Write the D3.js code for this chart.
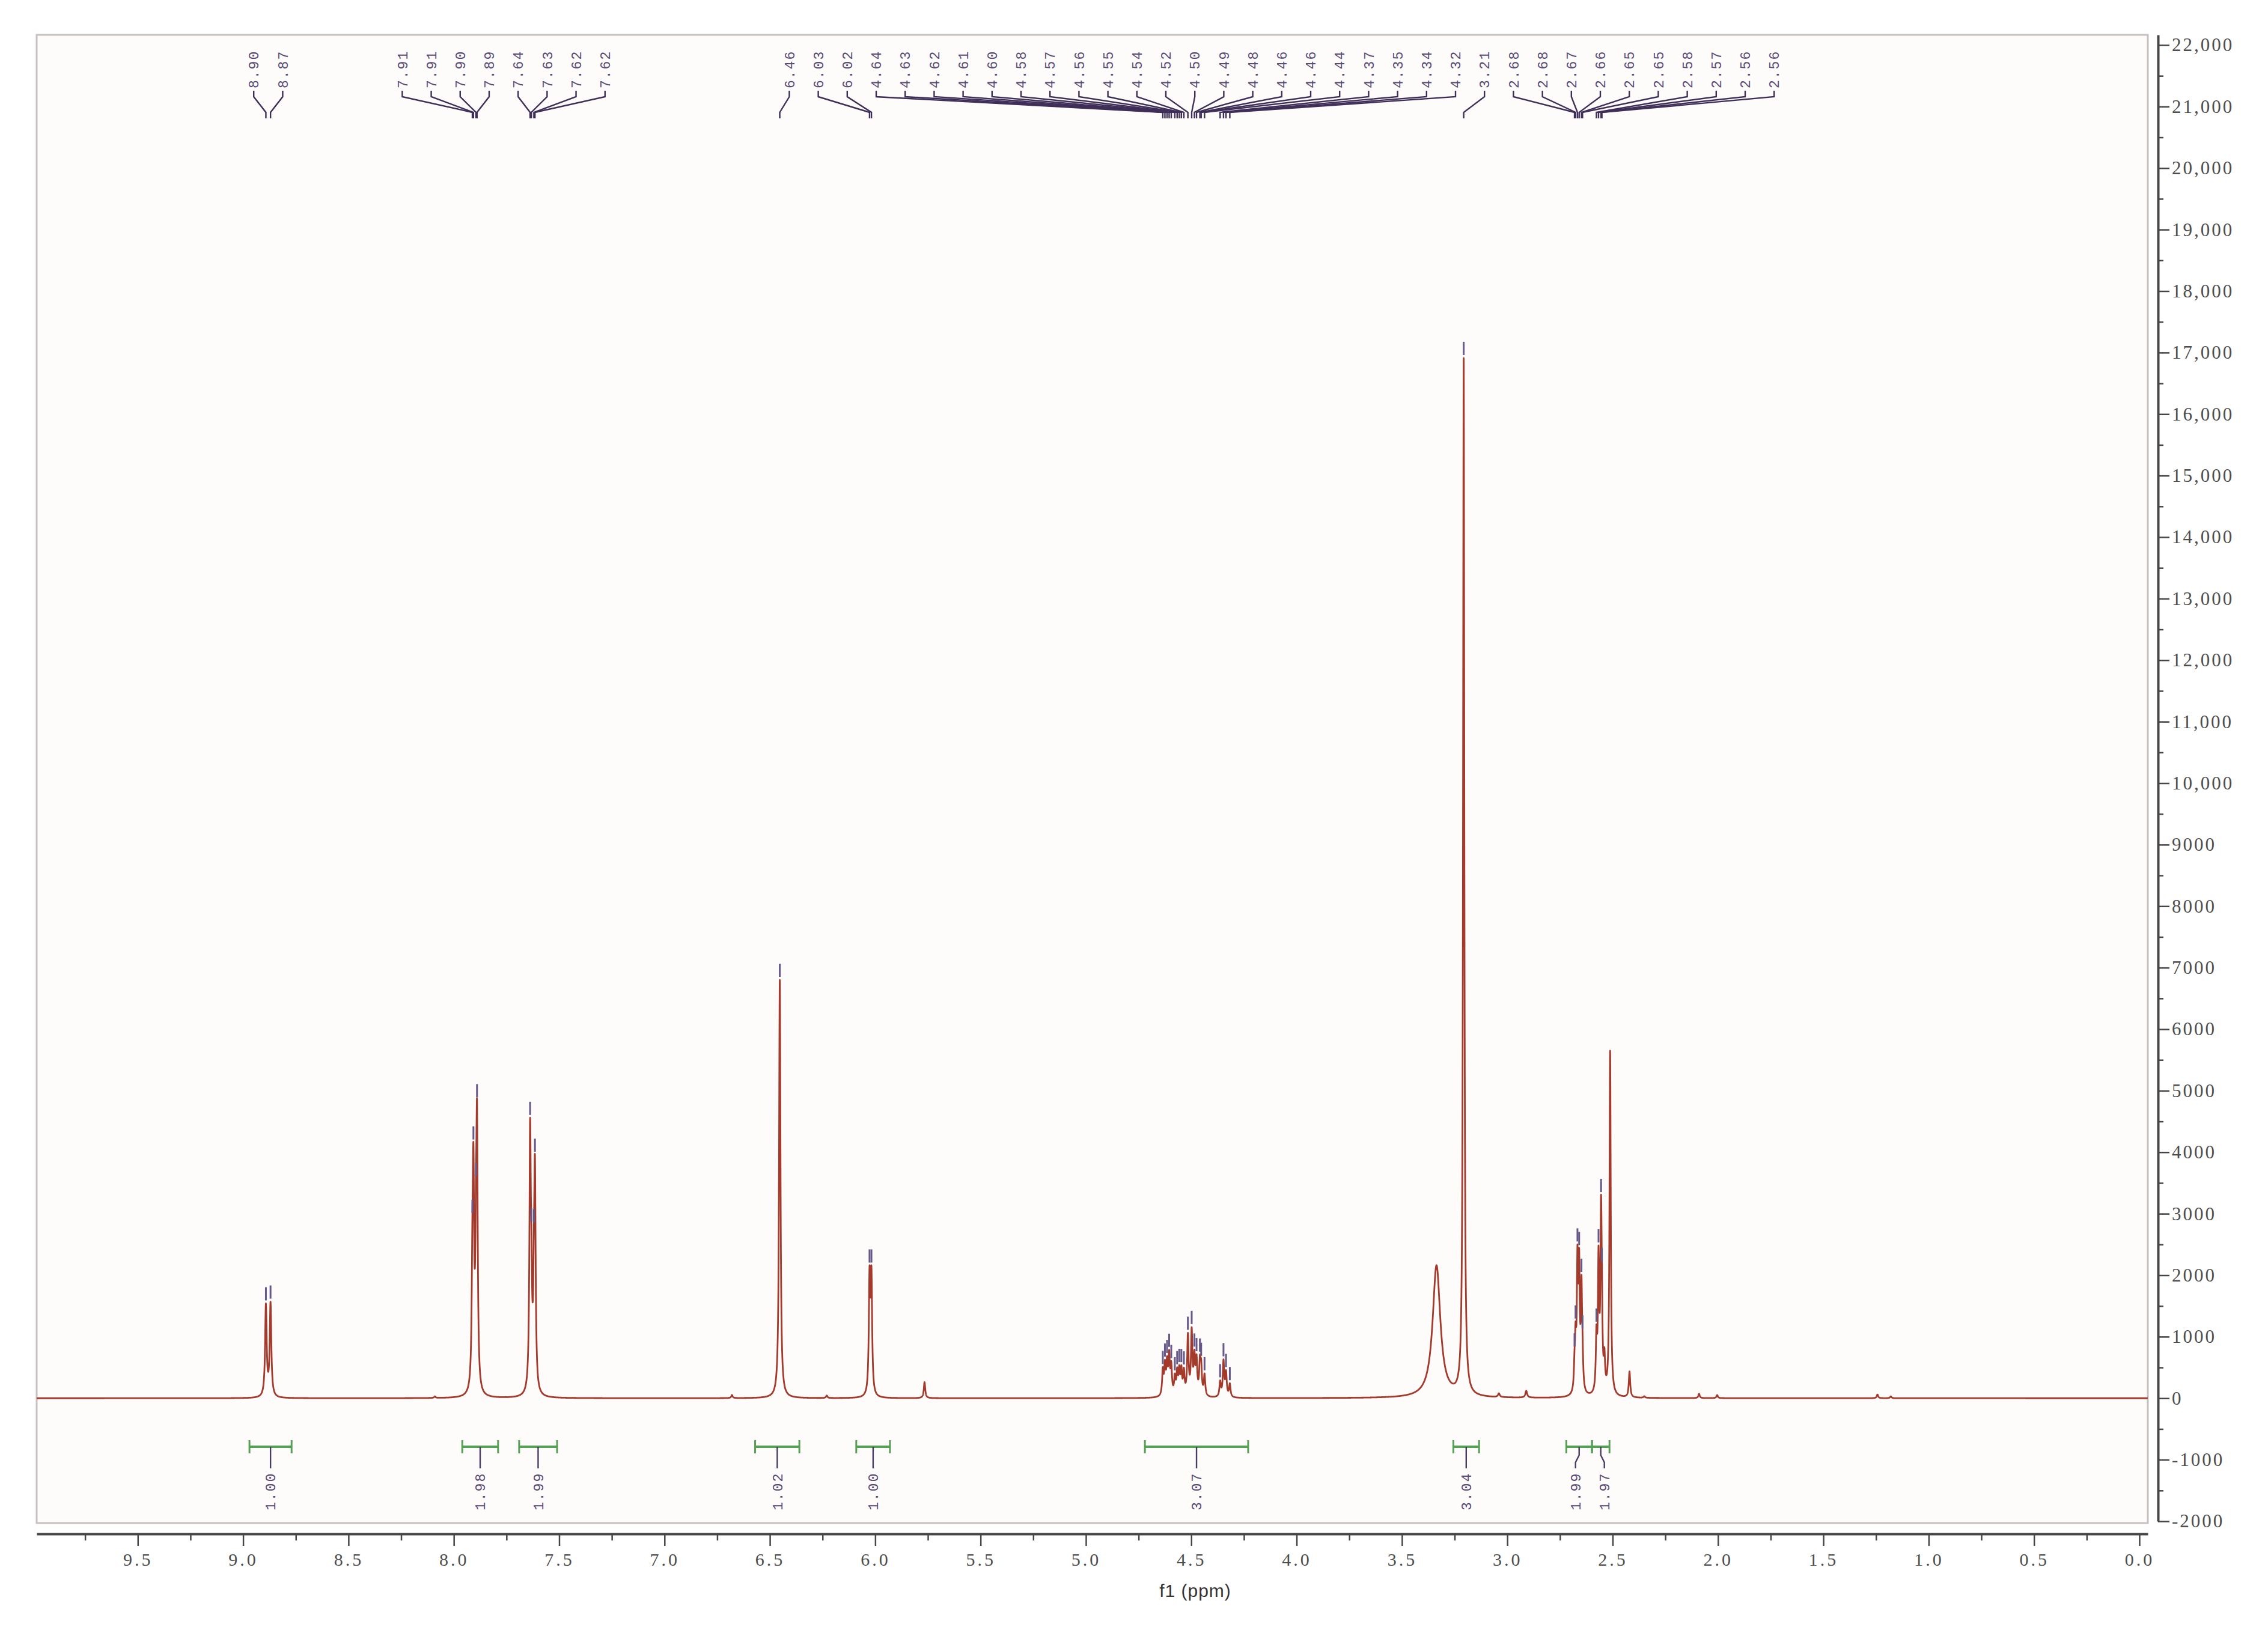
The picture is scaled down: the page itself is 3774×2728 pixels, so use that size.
<!DOCTYPE html>
<html><head><meta charset="utf-8">
<script src="https://cdn.jsdelivr.net/npm/d3@7"></script>
<style>
html,body{margin:0;padding:0;background:#fff;}
svg{display:block;}
</style></head><body>
<svg id="chart" width="3774" height="2728"></svg>
<script>
// ---------------- DATA ----------------
// resonance lines: chemical shift (ppm), height (a.u.), half-width at half-height (ppm)
const linePpm = [8.892, 8.870, 8.09,
  7.912, 7.907, 7.895, 7.890, 7.638, 7.632, 7.620, 7.615,
  6.68, 6.453, 6.23, 6.027, 6.018, 5.766,
  4.635, 4.625, 4.615, 4.605, 4.595, 4.578, 4.567, 4.557, 4.547, 4.535, 4.516, 4.498, 4.485, 4.475, 4.459, 4.453, 4.437,
  4.363, 4.347, 4.335, 4.317,
  3.336, 3.207, 3.04, 2.91,
  2.681, 2.676, 2.667, 2.659, 2.648, 2.643,
  2.577, 2.567, 2.555, 2.551, 2.539,
  2.512, 2.42, 2.35, 2.09, 2.004, 1.243, 1.18];
const lineHeight = [1480, 1510, 25,
  1500, 3200, 1600, 4000, 4000, 1300, 1200, 3300,
  50, 6800, 40, 1850, 1850, 260,
  400, 460, 490, 610, 450, 280, 360, 380, 390, 370, 960, 1020, 580, 540, 500, 420, 340,
  240, 570, 380, 210,
  2150, 16850, 60, 110,
  350, 750, 2000, 1900, 1600, 400,
  850, 2100, 2700, 800, 500,
  5600, 420, 25, 70, 50, 60, 30];
const lineWidth = [0.0045, 0.0045, 0.004,
  0.004, 0.004, 0.004, 0.004, 0.004, 0.004, 0.004, 0.004,
  0.004, 0.004, 0.004, 0.004, 0.004, 0.004,
  0.004, 0.004, 0.004, 0.004, 0.004, 0.004, 0.004, 0.004, 0.004, 0.004, 0.004, 0.004, 0.004, 0.004, 0.004, 0.004, 0.004,
  0.004, 0.004, 0.004, 0.004,
  0.022, 0.0035, 0.005, 0.005,
  0.0035, 0.0035, 0.0035, 0.0035, 0.0035, 0.0035,
  0.0035, 0.0035, 0.0035, 0.0035, 0.0035,
  0.0035, 0.004, 0.004, 0.004, 0.004, 0.004, 0.004];

// picked peaks: label text and position (ppm)
const peakLabels = ["8.90","8.87",
  "7.91","7.91","7.90","7.89","7.64","7.63","7.62","7.62",
  "6.46","6.03","6.02",
  "4.64","4.63","4.62","4.61","4.60","4.58","4.57","4.56","4.55","4.54","4.52","4.50","4.49","4.48","4.46","4.46","4.44",
  "4.37","4.35","4.34","4.32",
  "3.21",
  "2.68","2.68","2.67","2.66","2.65","2.65","2.58","2.57","2.56","2.56"];
const peakPpm = [8.892, 8.870,
  7.912, 7.907, 7.895, 7.890, 7.638, 7.632, 7.620, 7.615,
  6.453, 6.027, 6.018,
  4.635, 4.625, 4.615, 4.605, 4.595, 4.578, 4.567, 4.557, 4.547, 4.535, 4.516, 4.498, 4.485, 4.475, 4.459, 4.453, 4.437,
  4.363, 4.347, 4.335, 4.317,
  3.207,
  2.681, 2.676, 2.667, 2.659, 2.648, 2.643, 2.577, 2.567, 2.555, 2.551];

// integrals: range (ppm) and value
const integralFrom = [8.97, 7.96, 7.69, 6.57, 6.09, 4.72, 3.256, 2.72, 2.598];
const integralTo   = [8.77, 7.79, 7.51, 6.36, 5.93, 4.23, 3.134, 2.598, 2.515];
const integralValues = ["1.00", "1.98", "1.99", "1.02", "1.00", "3.07", "3.04", "1.99", "1.97"];

// axes
const xTickValues = [9.5, 9.0, 8.5, 8.0, 7.5, 7.0, 6.5, 6.0, 5.5, 5.0, 4.5, 4.0, 3.5, 3.0, 2.5, 2.0, 1.5, 1.0, 0.5, 0.0];
const xTickLabels = ["9.5","9.0","8.5","8.0","7.5","7.0","6.5","6.0","5.5","5.0","4.5","4.0","3.5","3.0","2.5","2.0","1.5","1.0","0.5","0.0"];
const xMinorTicks = [9.75, 9.25, 8.75, 8.25, 7.75, 7.25, 6.75, 6.25, 5.75, 5.25, 4.75, 4.25, 3.75, 3.25, 2.75, 2.25, 1.75, 1.25, 0.75, 0.25];
const yTickValues = [22000, 21000, 20000, 19000, 18000, 17000, 16000, 15000, 14000, 13000, 12000, 11000, 10000,
  9000, 8000, 7000, 6000, 5000, 4000, 3000, 2000, 1000, 0, -1000, -2000];
const yTickLabels = ["22,000","21,000","20,000","19,000","18,000","17,000","16,000","15,000","14,000","13,000","12,000","11,000","10,000",
  "9000","8000","7000","6000","5000","4000","3000","2000","1000","0","-1000","-2000"];
const yMinorTicks = [21500, 20500, 19500, 18500, 17500, 16500, 15500, 14500, 13500, 12500, 11500, 10500,
  9500, 8500, 7500, 6500, 5500, 4500, 3500, 2500, 1500, 500, -500, -1500];
const xAxisTitle = "f1 (ppm)";

// ---------------- LAYOUT ----------------
const frame = {left: 61, top: 58, right: 3574, bottom: 2535};
const svg = d3.select("#chart");

const x = d3.scaleLinear().domain([9.98, -0.04]).range([frame.left, frame.right]);
const y = d3.scaleLinear().domain([-2000, 22000]).range([2532, 75]);

const COL_TRACE = "#a33a2b";
const COL_PICK = "#3e2e58";
const COL_PICKTXT = "#5a4c76";
const COL_INT = "#55a055";
const COL_AXIS = "#464646";

// frame
svg.append("rect").attr("x", frame.left).attr("y", frame.top)
  .attr("width", frame.right - frame.left).attr("height", frame.bottom - frame.top)
  .attr("fill", "#fdfcfb").attr("stroke", "#c9c0c0").attr("stroke-width", 3);

// spectrum
function intensity(p) {
  let s = 0;
  for (let i = 0; i < linePpm.length; i++) {
    const d = (p - linePpm[i]) / lineWidth[i];
    s += lineHeight[i] / (1 + d * d);
  }
  return s;
}
const samples = d3.range(9.98, -0.04, -0.0004).concat(linePpm).sort((a, b) => b - a);
const spec = samples.map(p => [p, intensity(p)]);

svg.append("defs").append("clipPath").attr("id", "plotclip")
  .append("rect").attr("x", frame.left).attr("y", frame.top)
  .attr("width", frame.right - frame.left).attr("height", frame.bottom - frame.top);

svg.append("path").datum(spec)
  .attr("clip-path", "url(#plotclip)")
  .attr("fill", "none").attr("stroke", COL_TRACE).attr("stroke-width", 2.8)
  .attr("stroke-linejoin", "round")
  .attr("d", d3.line().x(d => x(d[0])).y(d => y(d[1])));

// label layout: merge neighbouring labels into clusters spaced `gap` apart, centred on their targets
function layoutLabels(targets, gap, mergeDist) {
  let clusters = targets.map((t, i) => ({members: [i], sum: t}));
  let changed = true;
  while (changed) {
    changed = false;
    for (let i = 0; i < clusters.length - 1; i++) {
      const a = clusters[i], b = clusters[i + 1];
      const aEnd = a.sum / a.members.length + (a.members.length - 1) / 2 * gap;
      const bStart = b.sum / b.members.length - (b.members.length - 1) / 2 * gap;
      if (bStart - aEnd < mergeDist) {
        clusters.splice(i, 2, {members: a.members.concat(b.members), sum: a.sum + b.sum});
        changed = true;
        break;
      }
    }
  }
  const pos = new Array(targets.length);
  clusters.forEach(c => {
    const n = c.members.length, center = c.sum / n;
    c.members.forEach((m, k) => { pos[m] = center + (k - (n - 1) / 2) * gap; });
  });
  return pos;
}

// peak picking labels
const peakX = peakPpm.map(p => x(p));
const labelX = layoutLabels(peakX, 48.2, 80);
const gPick = svg.append("g");
peakPpm.forEach((p, i) => {
  gPick.append("path")
    .attr("d", d3.line()([[labelX[i], 151], [labelX[i], 161], [peakX[i], 187], [peakX[i], 197]]))
    .attr("fill", "none").attr("stroke", COL_PICK).attr("stroke-width", 2.4);
  gPick.append("text")
    .attr("transform", `translate(${labelX[i]},147) rotate(-90)`)
    .attr("dy", "0.36em")
    .attr("font-family", "Liberation Mono, DejaVu Sans Mono, monospace")
    .attr("font-size", 23).attr("letter-spacing", 2)
    .attr("fill", COL_PICKTXT)
    .text(peakLabels[i]);
  // marker above the peak
  const yp = y(intensity(p));
  gPick.append("line").attr("x1", peakX[i]).attr("x2", peakX[i])
    .attr("y1", yp - 5).attr("y2", yp - 27)
    .attr("stroke", "#665888").attr("stroke-width", 3);
});

// integrals
const gInt = svg.append("g");
const intCenters = integralFrom.map((f, i) => (x(f) + x(integralTo[i])) / 2);
const intLabelX = layoutLabels(intCenters, 48, 48);
const yInt = 2408;
integralFrom.forEach((f, i) => {
  const x1 = x(f), x2 = x(integralTo[i]);
  gInt.append("line").attr("x1", x1).attr("x2", x2).attr("y1", yInt).attr("y2", yInt)
    .attr("stroke", COL_INT).attr("stroke-width", 4);
  [x1, x2].forEach(xx => gInt.append("line").attr("x1", xx).attr("x2", xx)
    .attr("y1", yInt - 11).attr("y2", yInt + 11).attr("stroke", COL_INT).attr("stroke-width", 3));
  gInt.append("path")
    .attr("d", d3.line()([[intCenters[i], yInt], [intCenters[i], yInt + 14], [intLabelX[i], yInt + 26], [intLabelX[i], yInt + 36]]))
    .attr("fill", "none").attr("stroke", "#4a3b66").attr("stroke-width", 2.4);
  gInt.append("text")
    .attr("transform", `translate(${intLabelX[i]},2514) rotate(-90)`)
    .attr("dy", "0.36em")
    .attr("font-family", "Liberation Mono, DejaVu Sans Mono, monospace")
    .attr("font-size", 23).attr("letter-spacing", 2)
    .attr("fill", COL_PICKTXT)
    .text(integralValues[i]);
});

// bottom axis
const xAxisY = 2553;
const gx = svg.append("g").attr("transform", `translate(0,${xAxisY})`)
  .call(d3.axisBottom(x).tickValues(xTickValues)
    .tickFormat((d, i) => xTickLabels[i]).tickSize(20).tickSizeOuter(0).tickPadding(12));
gx.select(".domain").attr("stroke", COL_AXIS).attr("stroke-width", 4);
gx.selectAll(".tick line").attr("stroke", COL_AXIS).attr("stroke-width", 2.5);
gx.selectAll(".tick text").attr("font-family", "Liberation Serif, serif").attr("font-size", 30)
  .attr("letter-spacing", 4).attr("fill", "#4d4d4d");
const gxm = svg.append("g").attr("transform", `translate(0,${xAxisY})`)
  .call(d3.axisBottom(x).tickValues(xMinorTicks).tickFormat("").tickSize(11).tickSizeOuter(0));
gxm.select(".domain").remove();
gxm.selectAll(".tick line").attr("stroke", COL_AXIS).attr("stroke-width", 2.5);

svg.append("text").attr("x", 1989).attr("y", 2658).attr("text-anchor", "middle")
  .attr("font-family", "Liberation Sans, Arial, sans-serif").attr("font-size", 30)
  .attr("letter-spacing", 1).attr("fill", "#333").text(xAxisTitle);

// right axis
const yAxisX = 3591;
const yFull = y.copy().domain([-2000, y.invert(frame.top)]).range([2532, frame.top]);
const gy = svg.append("g").attr("transform", `translate(${yAxisX},0)`)
  .call(d3.axisRight(yFull).tickValues(yTickValues)
    .tickFormat((d, i) => yTickLabels[i]).tickSize(19).tickSizeOuter(0).tickPadding(4));
gy.select(".domain").attr("stroke", COL_AXIS).attr("stroke-width", 4);
gy.selectAll(".tick line").attr("stroke", COL_AXIS).attr("stroke-width", 2.5);
gy.selectAll(".tick text").attr("font-family", "Liberation Serif, serif").attr("font-size", 31)
  .attr("letter-spacing", 3).attr("fill", "#4d4d4d");
const gym = svg.append("g").attr("transform", `translate(${yAxisX},0)`)
  .call(d3.axisRight(yFull).tickValues(yMinorTicks).tickFormat("").tickSize(9).tickSizeOuter(0));
gym.select(".domain").remove();
gym.selectAll(".tick line").attr("stroke", COL_AXIS).attr("stroke-width", 2.5);
</script>
</body></html>
